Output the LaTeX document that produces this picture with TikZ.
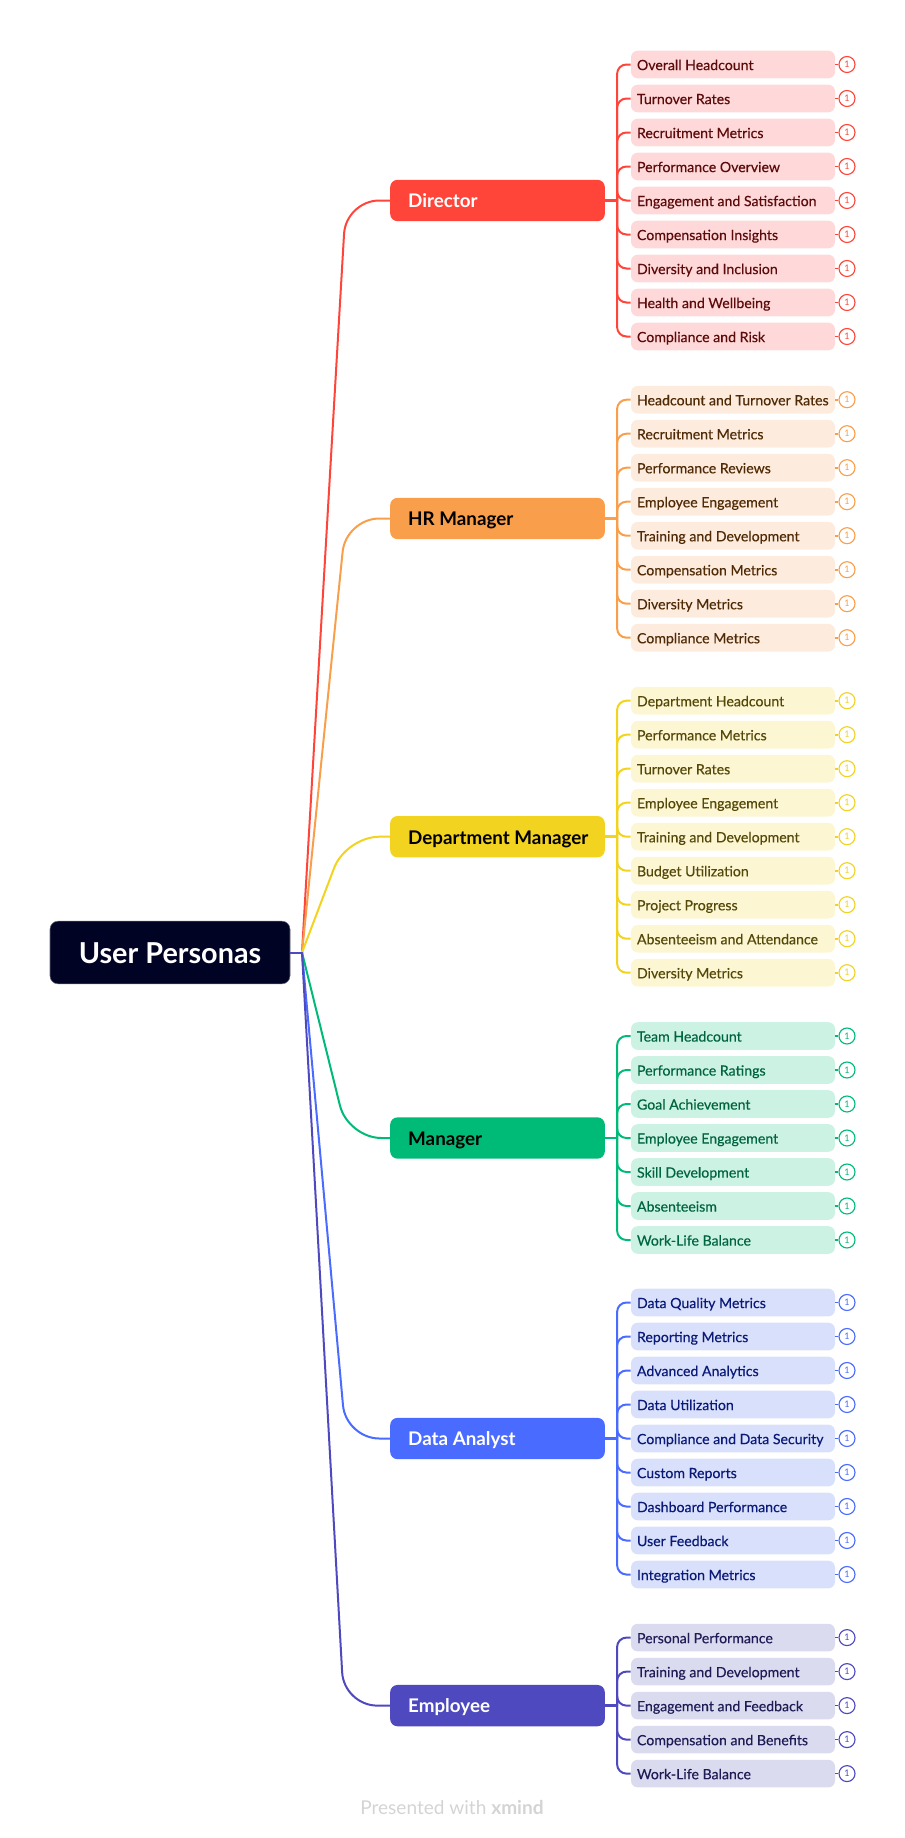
\documentclass[tikz,border=0pt]{standalone}
\usepackage{fontspec}
\setmainfont{Lato}
\newfontfamily\leaffont[RawFeature={embolden=0.3}]{Lato}
\usepackage{xcolor}

\definecolor{redline}{HTML}{FF453A}
\definecolor{redleaf}{HTML}{FFD9D9}
\definecolor{redtext}{HTML}{5C0A0A}
\definecolor{orangeline}{HTML}{F99F4C}
\definecolor{orangeleaf}{HTML}{FDEBDD}
\definecolor{orangetext}{HTML}{4F2A05}
\definecolor{yellowline}{HTML}{F2D31F}
\definecolor{yellowleaf}{HTML}{FDF6D3}
\definecolor{yellowtext}{HTML}{544808}
\definecolor{greenline}{HTML}{00BA78}
\definecolor{greenleaf}{HTML}{CCF2E4}
\definecolor{greentext}{HTML}{00643F}
\definecolor{blueline}{HTML}{4A6BFF}
\definecolor{blueleaf}{HTML}{D9E0FC}
\definecolor{bluetext}{HTML}{0A1A78}
\definecolor{indigoline}{HTML}{4E49BE}
\definecolor{indigoleaf}{HTML}{DBDBF0}
\definecolor{indigotext}{HTML}{1E1B55}
\definecolor{rootfill}{HTML}{010325}

\tikzset{
  rootbox/.style={rectangle,rounded corners=6pt,fill=rootfill,draw=rootfill!60,line width=0.4pt,minimum width=180pt,minimum height=47pt,text=white,text height=17pt,text depth=1.2pt,font=\fontsize{21.6}{24}\selectfont\bfseries},
  parentbox/.style={rectangle,rounded corners=5.5pt,minimum width=161pt,minimum height=31pt,inner sep=0pt,text height=13pt,text depth=2pt,font=\fontsize{14.1}{16}\selectfont\bfseries},
  leafbox/.style={rectangle,rounded corners=5pt,minimum width=153pt,minimum height=20.7pt,inner sep=0pt,text height=10pt,text depth=1.6pt,font=\fontsize{10.6}{12}\selectfont\leaffont},
  tallymark/.style={circle,fill=white,line width=0.85pt,minimum size=12pt,inner sep=0pt,font=\fontsize{6.8}{8}\selectfont},
  limb/.style={line width=1.5pt,rounded corners=25pt},
  twig/.style={line width=1.5pt,rounded corners=7pt},
  twigstub/.style={line width=2.2pt},
  tallystub/.style={line width=1.2pt},
}

% parent name, colour prefix, y of first leaf, list of leaf texts
\newcommand{\leafgroup}[4]{%
  \draw [twigstub,color=#2line] (#1.east) -- ++(12,0) ;
  \foreach \txt [count=\i from 0] in {#4} {
    \node [leafbox,fill=#2leaf,text=#2text] (#1-\i) at (733,{#3+34*\i}) {\makebox[144pt][l]{\txt}};
    \node [tallymark,draw=#2line,text=#2line] (#1-t\i) at (847,{#3+34*\i}) {1};
    \draw [twig,color=#2line] (#1.east) ++(12,0) |- (#1-\i.west) ;
    \draw [tallystub,color=#2line] (#1-\i.east) -- (#1-t\i.west) ;
  }
}

\begin{document}
\begin{tikzpicture}[x=0.75pt,y=0.75pt,yscale=-1]
    \useasboundingbox (0,0) rectangle (905,1838);

    % Root
    \node [rootbox] (personas) at (170,952.5) {User Personas};
    \coordinate (hub) at (302,952.5);

    % Parent Nodes
    \node [parentbox,fill=redline,text=white] (director) at (497.5,200.5) {\makebox[134pt][l]{Director}};
    \node [parentbox,fill=orangeline,text=black] (hr) at (497.5,518.5) {\makebox[134pt][l]{HR Manager}};
    \node [parentbox,fill=yellowline,text=black] (dept) at (497.5,836.7) {\makebox[134pt][l]{Department Manager}};
    \node [parentbox,fill=greenline,text=black] (manager) at (497.5,1138) {\makebox[134pt][l]{Manager}};
    \node [parentbox,fill=blueline,text=white] (analyst) at (497.5,1438.5) {\makebox[134pt][l]{Data Analyst}};
    \node [parentbox,fill=indigoline,text=white] (employee) at (497.5,1705.6) {\makebox[134pt][l]{Employee}};

    % Curve Lines
    \draw [limb,color=redline] (hub) -- (346,200.5) -- (director.west) ;
    \draw [limb,color=orangeline] (hub) -- (346,518.5) -- (hr.west) ;
    \draw [limb,color=yellowline] (hub) -- (346,836.7) -- (dept.west) ;
    \draw [limb,color=greenline] (hub) -- (348,1138) -- (manager.west) ;
    \draw [limb,color=blueline] (hub) -- (346,1438.5) -- (analyst.west) ;
    \draw [limb,color=indigoline] (hub) -- (344,1705.6) -- (employee.west) ;
    \draw [line width=1.5pt,color=indigoline] (personas.east) -- (hub) ;

    % Leaves
    \leafgroup{director}{red}{64.5}{Overall Headcount,Turnover Rates,Recruitment Metrics,Performance Overview,Engagement and Satisfaction,Compensation Insights,Diversity and Inclusion,Health and Wellbeing,Compliance and Risk}
    \leafgroup{hr}{orange}{399.7}{Headcount and Turnover Rates,Recruitment Metrics,Performance Reviews,Employee Engagement,Training and Development,Compensation Metrics,Diversity Metrics,Compliance Metrics}
    \leafgroup{dept}{yellow}{700.7}{Department Headcount,Performance Metrics,Turnover Rates,Employee Engagement,Training and Development,Budget Utilization,Project Progress,Absenteeism and Attendance,Diversity Metrics}
    \leafgroup{manager}{green}{1036}{Team Headcount,Performance Ratings,Goal Achievement,Employee Engagement,Skill Development,Absenteeism,Work-Life Balance}
    \leafgroup{analyst}{blue}{1302.5}{Data Quality Metrics,Reporting Metrics,Advanced Analytics,Data Utilization,Compliance and Data Security,Custom Reports,Dashboard Performance,User Feedback,Integration Metrics}
    \leafgroup{employee}{indigo}{1637.6}{Personal Performance,Training and Development,Engagement and Feedback,Compensation and Benefits,Work-Life Balance}

    % Text Node
    \node [anchor=west,inner sep=0pt,text=black!17,font=\fontsize{14.3}{16}\selectfont] (footer) at (360,1807) {Presented with \textbf{xmind}};
\end{tikzpicture}
\end{document}
